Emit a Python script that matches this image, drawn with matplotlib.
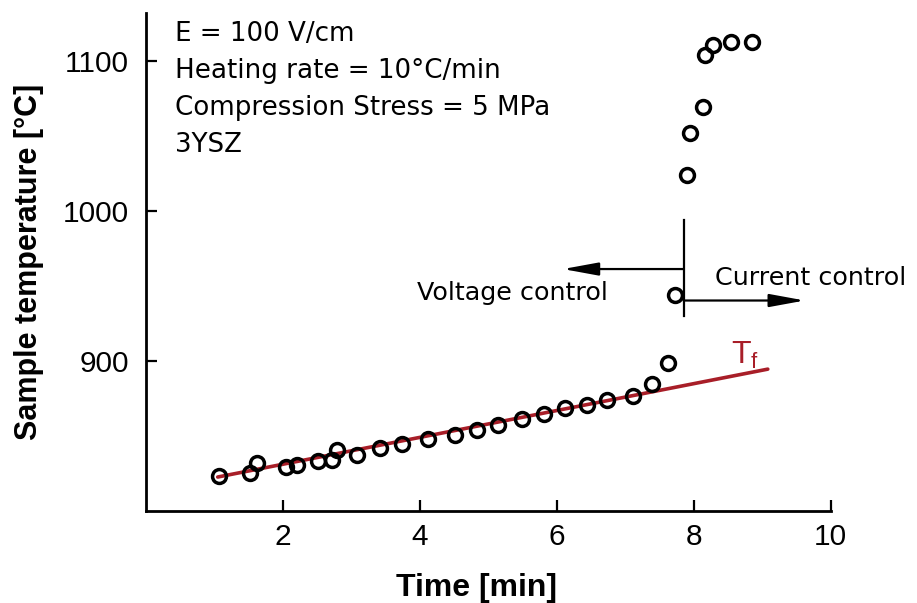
import matplotlib
matplotlib.use('Agg')
import matplotlib.pyplot as plt

plt.rcParams['font.family'] = ['Liberation Sans', 'DejaVu Sans']
plt.rcParams['mathtext.fontset'] = 'custom'
plt.rcParams['mathtext.rm'] = 'Liberation Sans'
plt.rcParams['mathtext.it'] = 'Liberation Sans:italic'

time_min = [1.07, 1.52, 1.62, 2.04, 2.20, 2.51, 2.72, 2.79, 3.08, 3.42, 3.74, 4.12, 4.51,
            4.83, 5.14, 5.49, 5.82, 6.12, 6.44, 6.74, 7.11, 7.39, 7.62, 7.72, 7.90, 7.94,
            8.13, 8.16, 8.28, 8.55, 8.85]
temp_c = [823.3, 825.3, 832.0, 829.3, 830.6, 833.3, 834.0, 840.7, 837.3, 842.0, 844.7, 848.1,
          850.7, 854.1, 857.4, 861.5, 864.8, 868.8, 870.8, 874.2, 876.9, 884.9, 898.3, 943.9,
          1024.3, 1051.8, 1069.2, 1104.1, 1110.8, 1112.8, 1112.8]

# Furnace temperature line T_f.
tf_time = [1.05, 9.08]
tf_temp = [822.5, 894.5]

info_lines = ['E = 100 V/cm', 'Heating rate = 10\u00b0C/min', 'Compression Stress = 5 MPa', '3YSZ']

RED = '#a81e28'
WIDE = ['DejaVu Sans']  # the annotation text in the original is set wider than the tick labels

fig = plt.figure(figsize=(9.17, 6.03), dpi=100)
ax = fig.add_axes([0.159, 0.153, 0.747, 0.825])

ax.plot(tf_time, tf_temp, color=RED, lw=2.6, solid_capstyle='round', zorder=2)
ax.plot(time_min, temp_c, 'o', ms=10, mfc='none', mec='black', mew=2.5, zorder=3)

ax.set_xlim(0, 10)
ax.set_ylim(800, 1132)
ax.set_xticks([2, 4, 6, 8, 10])
ax.set_yticks([900, 1000, 1100])
for s in ['top', 'right']:
    ax.spines[s].set_visible(False)
for s in ['left', 'bottom']:
    ax.spines[s].set_linewidth(2)
ax.tick_params(direction='in', length=8, width=1.6, labelsize=21.5)
ax.tick_params(axis='y', pad=12)
ax.tick_params(axis='x', pad=9)

ax.set_xlabel('Time [min]', fontsize=23, fontweight='bold')
ax.set_ylabel('Sample temperature [\u00b0C]', fontsize=22, fontweight='bold')
ax.xaxis.set_label_coords(0.483, -0.125)
ax.yaxis.set_label_coords(-0.148, 0.5)

# Info block, top-left.
for i, line in enumerate(info_lines):
    ax.text(0.42, 1113.4 - 24.6 * i, line, fontsize=18.8, family=WIDE, va='baseline', ha='left')

# Control-mode switch marker and arrows.
ax.plot([7.85, 7.85], [929.8, 994.2], color='black', lw=1.6)
arrow = dict(arrowstyle='-|>,head_length=1.2,head_width=0.22', color='black', lw=1.6,
             mutation_scale=18, shrinkA=0, shrinkB=0)
ax.annotate('', xy=(6.09, 961.3), xytext=(7.85, 961.3), arrowprops=arrow)
ax.annotate('', xy=(9.62, 940.3), xytext=(7.85, 940.3), arrowprops=arrow)
ax.text(3.96, 945, 'Voltage control', fontsize=18.3, family=WIDE, va='center', ha='left')
ax.text(8.31, 955.3, 'Current control', fontsize=18.3, family=WIDE, va='center', ha='left')

ax.text(8.55, 898.3, r'T$_{\mathrm{f}}$', fontsize=23, color=RED, va='baseline', ha='left')

fig.savefig('out.png', dpi=100)
